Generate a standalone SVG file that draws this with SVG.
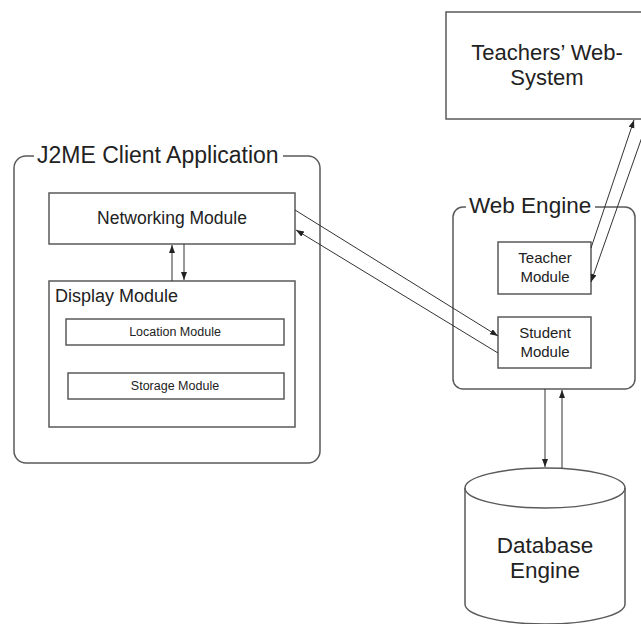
<svg xmlns="http://www.w3.org/2000/svg" width="641" height="624" viewBox="0 0 641 624">
<style>
  .box { fill: #ffffff; stroke: #5a5a5a; stroke-width: 1.5; }
  .frame { fill: none; stroke: #5a5a5a; stroke-width: 1.5; }
  .title { font-family: "Liberation Sans", Arial, sans-serif; fill: #222222; }
  .lbl { font-family: "Liberation Sans", Arial, sans-serif; fill: #222222; text-anchor: middle; }
  .conn { stroke: #333333; stroke-width: 1; fill: none; marker-end: url(#arr); }
</style>
<defs>
  <marker id="arr" markerUnits="userSpaceOnUse" markerWidth="9" markerHeight="7" refX="8" refY="3" orient="auto">
    <path d="M0,0 L8,3 L0,6 Z" fill="#222222"/>
  </marker>
</defs>
<rect width="641" height="624" fill="#ffffff"/>

<g id="j2me-client">
  <rect class="frame" x="14" y="156" width="306" height="307" rx="12" ry="12"/>
  <rect x="34" y="144" width="249" height="24" fill="#ffffff"/>
  <text class="title" x="37" y="163" font-size="23">J2ME Client Application</text>
</g>

<g id="networking-module">
  <rect class="box" x="49" y="193" width="246" height="51"/>
  <text class="lbl" x="172" y="224" font-size="17.5">Networking Module</text>
</g>

<g id="display-module">
  <rect class="box" x="49" y="281" width="246" height="146"/>
  <text class="title" x="55" y="302" font-size="18">Display Module</text>
</g>

<g id="location-module">
  <rect class="box" x="66" y="319" width="218" height="26"/>
  <text class="lbl" x="175" y="336" font-size="12.5">Location Module</text>
</g>

<g id="storage-module">
  <rect class="box" x="68" y="373" width="216" height="26"/>
  <text class="lbl" x="175" y="390" font-size="12.5">Storage Module</text>
</g>

<g id="teachers-web-system">
  <rect class="box" x="446" y="12" width="200" height="107"/>
  <text class="lbl" x="547" y="60" font-size="22">Teachers’ Web-</text>
  <text class="lbl" x="547" y="85" font-size="22">System</text>
</g>

<g id="web-engine">
  <rect class="frame" x="453" y="207" width="182" height="182" rx="10" ry="10"/>
  <rect x="466" y="195" width="129" height="24" fill="#ffffff"/>
  <text class="title" x="469" y="213" font-size="22.5">Web Engine</text>
</g>

<g id="teacher-module">
  <rect class="box" x="498" y="242" width="93" height="52"/>
  <text class="lbl" x="545" y="263" font-size="15">Teacher</text>
  <text class="lbl" x="545" y="282" font-size="15">Module</text>
</g>

<g id="student-module">
  <rect class="box" x="498" y="317" width="93" height="51"/>
  <text class="lbl" x="545" y="338" font-size="15">Student</text>
  <text class="lbl" x="545" y="357" font-size="15">Module</text>
</g>

<g id="database-engine">
  <path class="box" d="M465,488 A80,20 0 0 1 625,488 L625,604 A80,20 0 0 1 465,604 Z"/>
  <path class="frame" d="M465,488 A80,20 0 0 0 625,488"/>
  <text class="lbl" x="545" y="553" font-size="22.5">Database</text>
  <text class="lbl" x="545" y="578" font-size="22.5">Engine</text>
</g>

<g id="connectors">
  <line class="conn" x1="295" y1="210" x2="498" y2="336"/>
  <line class="conn" x1="498" y1="353" x2="296" y2="230"/>
  <line class="conn" x1="172" y1="281" x2="172" y2="245"/>
  <line class="conn" x1="184" y1="244" x2="184" y2="280"/>
  <line class="conn" x1="591" y1="248" x2="634" y2="120"/>
  <line class="conn" x1="648" y1="120" x2="591" y2="282"/>
  <line class="conn" x1="545" y1="389" x2="545" y2="467"/>
  <line class="conn" x1="562" y1="468" x2="562" y2="390"/>
</g>
</svg>
